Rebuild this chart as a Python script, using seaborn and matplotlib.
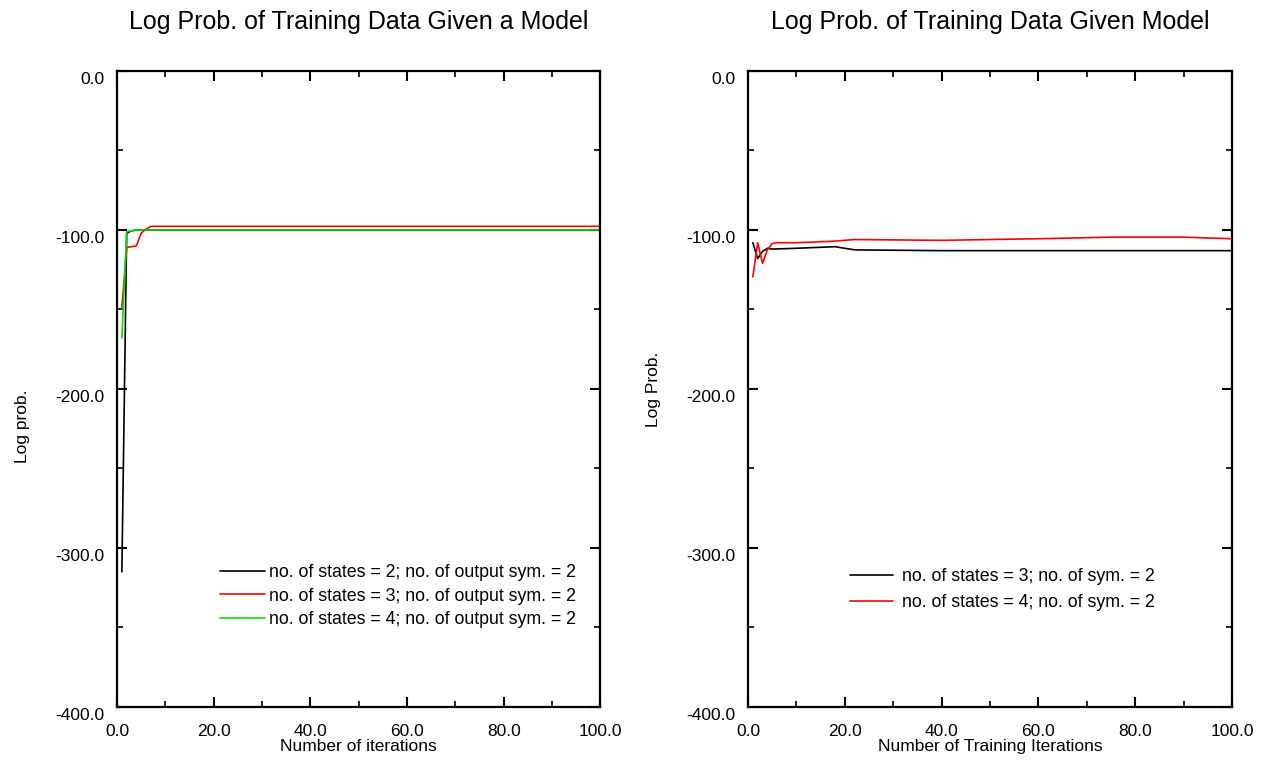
import pandas as pd
import matplotlib
matplotlib.use("Agg")
import matplotlib.pyplot as plt
import matplotlib.transforms as mtransforms
from matplotlib.ticker import MultipleLocator, FormatStrFormatter
import seaborn as sns

# ------------------------------
# Data
# ------------------------------
# left panel: log prob. per iteration
left_black_x = [1, 2, 3, 4, 100]
left_black_y = [-315, -102, -100.5, -100, -100]
left_red_x = [1, 2, 4, 5, 6, 7, 100]
left_red_y = [-149, -111, -110, -102, -99.5, -97.7, -97.7]
left_green_x = [1, 2, 4, 100]
left_green_y = [-168, -101, -100, -100]
left_labels = ["no. of states = 2; no. of output sym. = 2",
               "no. of states = 3; no. of output sym. = 2",
               "no. of states = 4; no. of output sym. = 2"]

# right panel
right_black_x = [1, 2, 3, 4, 5, 10, 18, 22, 40, 100]
right_black_y = [-108, -118, -113.5, -111.5, -112, -111.5, -110.5, -112.5, -113, -113]
right_red_x = [1, 2, 3, 4, 5, 6, 10, 18, 22, 40, 60, 75, 90, 100]
right_red_y = [-129.5, -108, -121, -112.5, -108.5, -108, -108, -107, -106,
               -106.5, -105.5, -104.5, -104.5, -105.5]
right_labels = ["no. of states = 3; no. of sym. = 2",
                "no. of states = 4; no. of sym. = 2"]

colors = ["#000000", "#ff0000", "#00e000"]

# ------------------------------
# Style
# ------------------------------
sns.set_style("ticks")
plt.rcParams['font.family'] = ['Liberation Sans', 'DejaVu Sans']
plt.rcParams['xtick.direction'] = 'in'
plt.rcParams['ytick.direction'] = 'in'
plt.rcParams['text.color'] = 'black'
plt.rcParams['axes.labelcolor'] = 'black'
plt.rcParams['axes.edgecolor'] = 'black'
plt.rcParams['xtick.color'] = 'black'
plt.rcParams['ytick.color'] = 'black'

fig = plt.figure(figsize=(12.65, 7.61), dpi=100)
ax1 = fig.add_axes([0.0925, 0.0710, 0.3822, 0.8357])
ax2 = fig.add_axes([0.5913, 0.0710, 0.3826, 0.8357])

left_series = [(left_black_x, left_black_y), (left_red_x, left_red_y), (left_green_x, left_green_y)]
for (xs, ys), lab, c in zip(left_series, left_labels, colors):
    sns.lineplot(x=xs, y=ys, ax=ax1, color=c, label=lab, linewidth=1.2, estimator=None, sort=False)

right_series = [(right_black_x, right_black_y), (right_red_x, right_red_y)]
for (xs, ys), lab, c in zip(right_series, right_labels, colors):
    sns.lineplot(x=xs, y=ys, ax=ax2, color=c, label=lab, linewidth=1.2, estimator=None, sort=False)

# ------------------------------
# Axes formatting
# ------------------------------
settings = [
    (ax1, "Log Prob. of Training Data Given a Model", "Number of iterations", "Log prob.", 0.442),
    (ax2, "Log Prob. of Training Data Given Model", "Number of Training Iterations", "Log Prob.", 0.5),
]
shift = mtransforms.ScaledTranslation(0, -5 / 72, fig.dpi_scale_trans)
for ax, title, xl, yl, ypos in settings:
    ax.set_xlim(0, 100)
    ax.set_ylim(-400, 0)
    ax.xaxis.set_major_locator(MultipleLocator(20))
    ax.xaxis.set_minor_locator(MultipleLocator(10))
    ax.yaxis.set_major_locator(MultipleLocator(100))
    ax.yaxis.set_minor_locator(MultipleLocator(50))
    ax.xaxis.set_major_formatter(FormatStrFormatter('%.1f'))
    ax.yaxis.set_major_formatter(FormatStrFormatter('%.1f'))
    ax.tick_params(which='both', top=True, right=True, labelsize=12.5)
    ax.tick_params(which='major', length=7, width=1.5, pad=9)
    ax.tick_params(axis='x', which='major', pad=12)
    ax.tick_params(which='minor', length=4, width=1.2)
    for sp in ax.spines.values():
        sp.set_visible(True)
        sp.set_linewidth(1.6)
    for lab in ax.get_yticklabels():
        lab.set_transform(lab.get_transform() + shift)
    ax.set_title(title, fontsize=18, pad=30)
    ax.set_xlabel(xl, fontsize=12.5, labelpad=0.5)
    ax.set_ylabel(yl, fontsize=12.5)
    ax.yaxis.set_label_coords(-0.18, ypos)

ax1.legend(loc='upper left', bbox_to_anchor=(0.213, 0.225), frameon=False, fontsize=12.8,
           handlelength=2.55, handletextpad=0.2, labelspacing=0.38, borderpad=0, borderaxespad=0)
ax2.legend(loc='upper left', bbox_to_anchor=(0.211, 0.218), frameon=False, fontsize=12.8,
           handlelength=2.4, handletextpad=0.5, labelspacing=0.5, borderpad=0, borderaxespad=0)

plt.savefig("out.png", dpi=100)
